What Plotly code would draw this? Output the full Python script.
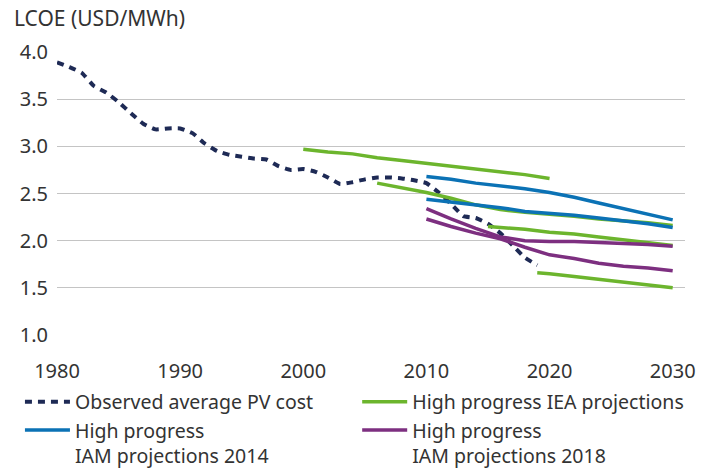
import plotly.graph_objects as go

# Observed average PV cost
obs_years = list(range(1980, 2020))
obs_vals = [3.89, 3.84, 3.78, 3.64, 3.57, 3.47, 3.35, 3.24, 3.18, 3.19,
            3.19, 3.14, 3.03, 2.95, 2.91, 2.89, 2.87, 2.86, 2.79, 2.75,
            2.76, 2.73, 2.67, 2.60, 2.62, 2.65, 2.67, 2.67, 2.66, 2.64,
            2.61, 2.51, 2.39, 2.26, 2.24, 2.18, 2.08, 1.95, 1.82, 1.74]

# High progress IEA projections (four vintages)
iea1_years = [2000, 2002, 2004, 2006, 2008, 2010, 2012, 2014, 2016, 2018, 2020]
iea1_vals = [2.97, 2.94, 2.92, 2.88, 2.85, 2.82, 2.79, 2.76, 2.73, 2.70, 2.66]
iea2_years = [2006, 2008, 2010, 2012, 2014, 2016, 2018, 2020, 2022, 2024, 2026, 2028, 2030]
iea2_vals = [2.61, 2.56, 2.51, 2.45, 2.38, 2.33, 2.30, 2.28, 2.26, 2.23, 2.21, 2.19, 2.16]
iea3_years = [2015, 2018, 2020, 2022, 2024, 2026, 2028, 2030]
iea3_vals = [2.15, 2.12, 2.09, 2.07, 2.04, 2.01, 1.98, 1.95]
iea4_years = [2019, 2020, 2022, 2024, 2026, 2028, 2030]
iea4_vals = [1.66, 1.65, 1.62, 1.59, 1.56, 1.53, 1.50]

# High progress IAM projections 2014
iam14_years = [2010, 2012, 2014, 2016, 2018, 2020, 2022, 2024, 2026, 2028, 2030]
iam14a_vals = [2.68, 2.65, 2.61, 2.58, 2.55, 2.51, 2.46, 2.40, 2.34, 2.28, 2.22]
iam14b_vals = [2.44, 2.41, 2.38, 2.35, 2.31, 2.29, 2.27, 2.24, 2.21, 2.18, 2.14]

# High progress IAM projections 2018
iam18_years = [2010, 2012, 2014, 2016, 2018, 2020, 2022, 2024, 2026, 2028, 2030]
iam18a_vals = [2.34, 2.23, 2.13, 2.04, 2.00, 1.99, 1.99, 1.98, 1.97, 1.96, 1.94]
iam18b_vals = [2.23, 2.15, 2.08, 2.02, 1.93, 1.85, 1.81, 1.76, 1.73, 1.71, 1.68]

x_ticks = [1980, 1990, 2000, 2010, 2020, 2030]
y_ticks = [1.0, 1.5, 2.0, 2.5, 3.0, 3.5, 4.0]

NAVY = "#1e2a55"
GREEN = "#6cb52d"
BLUE = "#0b72b5"
PURPLE = "#7d2f80"

fig = go.Figure()

fig.add_trace(go.Scatter(x=obs_years, y=obs_vals, mode="lines",
                         line=dict(color=NAVY, width=4, dash="7px,6px", shape="spline", smoothing=0.4),
                         name="Observed average PV cost", legend="legend"))

for i, (xs, ys) in enumerate([(iea1_years, iea1_vals), (iea2_years, iea2_vals),
                              (iea3_years, iea3_vals), (iea4_years, iea4_vals)]):
    fig.add_trace(go.Scatter(x=xs, y=ys, mode="lines",
                             line=dict(color=GREEN, width=3.5),
                             name="High progress IEA projections", legend="legend2",
                             showlegend=(i == 0)))

for i, ys in enumerate([iam14a_vals, iam14b_vals]):
    fig.add_trace(go.Scatter(x=iam14_years, y=ys, mode="lines",
                             line=dict(color=BLUE, width=3.5),
                             name="High progress<br>IAM projections 2014", legend="legend",
                             showlegend=(i == 0)))

for i, ys in enumerate([iam18a_vals, iam18b_vals]):
    fig.add_trace(go.Scatter(x=iam18_years, y=ys, mode="lines",
                             line=dict(color=PURPLE, width=3.5),
                             name="High progress<br>IAM projections 2018", legend="legend2",
                             showlegend=(i == 0)))

legend_style = dict(orientation="v", yanchor="top", y=-0.168, xanchor="left",
                    font=dict(family="Noto Sans", size=19.5, color="#333333"),
                    itemwidth=45, tracegroupgap=0, valign="top", bgcolor="rgba(0,0,0,0)")

fig.update_layout(
    width=714, height=470,
    margin=dict(l=57, r=29, t=52, b=135, autoexpand=False),
    paper_bgcolor="white", plot_bgcolor="white",
    font=dict(family="Noto Sans", size=20, color="#333333"),
    showlegend=True,
    legend=dict(x=-0.059, **legend_style),
    legend2=dict(x=0.478, **legend_style),
    annotations=[dict(text="LCOE (USD/MWh)", xref="paper", yref="paper",
                      x=-0.072, y=1.0, yshift=34, xanchor="left", yanchor="middle",
                      showarrow=False, font=dict(size=21, color="#333333"))],
)

fig.update_xaxes(range=[1980, 2031], tickvals=x_ticks, ticktext=[str(v) for v in x_ticks],
                 showgrid=False, zeroline=False, showline=False,
                 ticks="", ticklabelstandoff=22, tickfont=dict(size=20))
fig.update_yaxes(range=[1.0, 4.0], tickvals=y_ticks, ticktext=[f"{v:.1f}" for v in y_ticks],
                 showgrid=True, gridcolor="#c4c4c4", gridwidth=1, zeroline=False, showline=False,
                 ticks="", ticklabelstandoff=8, tickfont=dict(size=20))

fig.write_html("out.html", config={"displayModeBar": False},
               post_script="document.body.style.margin='0';document.body.style.padding='0';")
